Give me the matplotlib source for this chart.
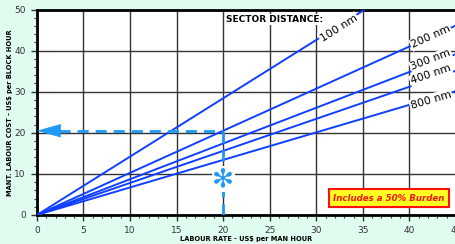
import numpy as np
import matplotlib
matplotlib.use("Agg")
import matplotlib.pyplot as plt
from matplotlib.ticker import MultipleLocator

# cost per block hour = slope * labour rate, one line per sector distance
sectors = ["100 nm", "200 nm", "300 nm", "400 nm", "800 nm"]
slopes = [1.42, 1.025, 0.87, 0.78, 0.67]
label_x = [32.4, 42.3, 42.3, 42.3, 42.3]
label_y = [45.5, 43.3, 37.7, 34.1, 28.0]
rate_range = [0, 45]

# worked example: 20 US$/man hour at 200 nm
example_rate = 20
example_cost = 20.5

blue = "#1040ff"
light_blue = "#1e9af5"
bg = "#dffcee"

fig = plt.figure(figsize=(4.56, 2.44), dpi=100, facecolor=bg)
ax = fig.add_axes([0.081, 0.119, 0.919, 0.842])
ax.set_facecolor("white")

x = np.array(rate_range)
for s in slopes:
    ax.plot(x, s * x, color=blue, lw=1.4, zorder=3, solid_capstyle="butt")

for name, s, lx, ly in zip(sectors, slopes, label_x, label_y):
    ang = np.degrees(np.arctan(s))
    ax.text(lx, ly, name, fontsize=7.8, rotation=ang, transform_rotates_text=True,
            rotation_mode="anchor", ha="center", va="center", zorder=4,
            bbox=dict(facecolor="white", edgecolor="none", pad=0.8))

ax.text(20.3, 47.6, "SECTOR DISTANCE:", fontsize=6.5, fontweight="bold",
        ha="left", va="center", zorder=4,
        bbox=dict(facecolor="white", edgecolor="none", pad=0.5))

# example lines
ax.plot([2.4, example_rate], [example_cost, example_cost], color=light_blue,
        lw=2, dashes=(4, 2.5), zorder=5)
ax.plot([example_rate, example_rate], [0, example_cost], color=light_blue,
        lw=2, dashes=(4, 2.5), zorder=5)
ax.annotate("", xy=(0, example_cost), xytext=(2.5, example_cost),
            arrowprops=dict(arrowstyle="-|>,head_length=1.6,head_width=0.45",
                            mutation_scale=10, color=light_blue, lw=0.5,
                            shrinkA=0, shrinkB=0), zorder=6)
ax.text(example_rate, 8.7, "\u273b", fontsize=19, color=light_blue,
        ha="center", va="center", zorder=6,
        bbox=dict(facecolor="white", edgecolor="none", pad=0.2))

ax.text(37.8, 4.1, "Includes a 50% Burden", fontsize=6.2, fontstyle="italic",
        fontweight="semibold", color="#ff1010", ha="center", va="center", zorder=6,
        bbox=dict(facecolor="#ffff20", edgecolor="#ff1010", lw=1.5,
                  boxstyle="square,pad=0.5"))

ax.set_xlim(0, 45)
ax.set_ylim(0, 50)
ax.xaxis.set_major_locator(MultipleLocator(5))
ax.xaxis.set_minor_locator(MultipleLocator(1))
ax.yaxis.set_major_locator(MultipleLocator(10))
ax.yaxis.set_minor_locator(MultipleLocator(2))
ax.tick_params(which="both", direction="out", labelsize=6.5, labelcolor="#333333",
               color="#333333")
ax.tick_params(which="major", length=4, width=1, pad=4)
ax.tick_params(which="minor", length=2.5, width=0.8)
ax.grid(which="major", color="#333333", lw=1, zorder=1)

for sp in ["left", "bottom", "top"]:
    ax.spines[sp].set_linewidth(2)
    ax.spines[sp].set_color("black")
ax.spines["right"].set_visible(False)

ax.set_xlabel("LABOUR RATE - US$ per MAN HOUR", fontsize=4.8, fontweight="bold")
ax.set_ylabel("MANT. LABOUR COST - US$ per BLOCK HOUR", fontsize=4.8,
              fontweight="bold")
ax.xaxis.set_label_coords(0.5, -0.1)
ax.yaxis.set_label_coords(-0.058, 0.5)

fig.savefig("out.png", dpi=100, facecolor=bg)
